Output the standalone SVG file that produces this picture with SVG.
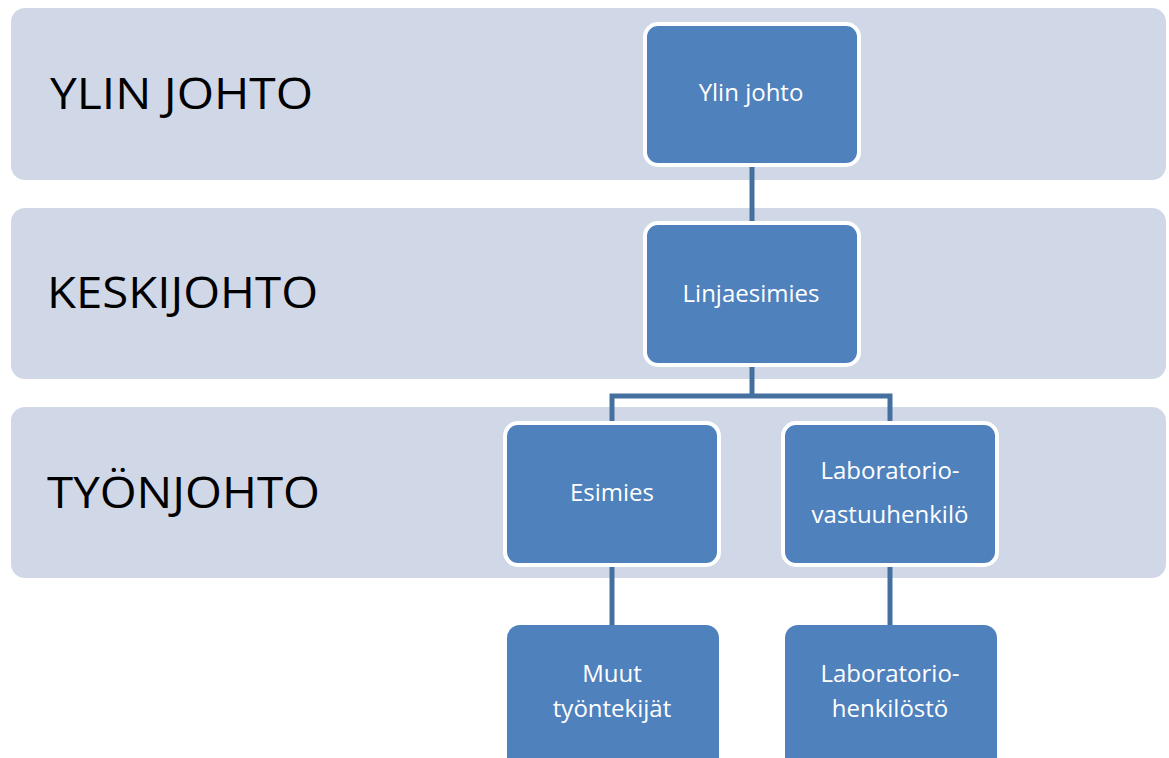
<svg xmlns="http://www.w3.org/2000/svg" width="1169" height="758" viewBox="0 0 1169 758">
<style>
.band{fill:#d0d8e8}
.blab{font-family:"Open Sans","Noto Sans",sans-serif;font-size:44px;fill:#000}
.node rect{fill:#4f81bd;stroke:#fff;stroke-width:4}
.node text{font-family:"Open Sans","Noto Sans",sans-serif;font-size:24px;fill:#fff;text-anchor:middle}
.conn{fill:none;stroke:#44709f;stroke-width:5}
</style>
<rect width="1169" height="758" fill="#fff"/>
<g id="bands">
<rect class="band" x="11" y="8" width="1155" height="172" rx="14"/>
<rect class="band" x="11" y="208" width="1155" height="171" rx="14"/>
<rect class="band" x="11" y="407" width="1155" height="171" rx="14"/>
<text class="blab" x="50" y="109" textLength="263" lengthAdjust="spacingAndGlyphs">YLIN JOHTO</text>
<text class="blab" x="47" y="308" textLength="271" lengthAdjust="spacingAndGlyphs">KESKIJOHTO</text>
<text class="blab" x="47" y="508" textLength="273" lengthAdjust="spacingAndGlyphs">TYÖNJOHTO</text>
</g>
<g id="connectors">
<path class="conn" d="M752 166V224"/>
<path class="conn" d="M752 366V396H612V424M752 396H890V424"/>
<path class="conn" d="M612 567V626"/>
<path class="conn" d="M890 567V626"/>
</g>
<g id="n1" class="node"><rect x="645" y="24" width="214" height="141" rx="13"/><text x="751" y="101">Ylin johto</text></g>
<g id="n2" class="node"><rect x="645" y="223" width="214" height="142" rx="13"/><text x="751" y="302">Linjaesimies</text></g>
<g id="n3" class="node"><rect x="505" y="423" width="214" height="142" rx="13"/><text x="612" y="501">Esimies</text></g>
<g id="n4" class="node"><rect x="783" y="423" width="214" height="142" rx="13"/><text x="890" y="479">Laboratorio-</text><text x="890" y="523">vastuuhenkilö</text></g>
<g id="n5" class="node"><rect x="507" y="625" width="212" height="150" rx="13" style="stroke:none"/><text x="612" y="682">Muut</text><text x="612" y="717">työntekijät</text></g>
<g id="n6" class="node"><rect x="785" y="625" width="212" height="150" rx="13" style="stroke:none"/><text x="890" y="682">Laboratorio-</text><text x="890" y="717">henkilöstö</text></g>
</svg>
